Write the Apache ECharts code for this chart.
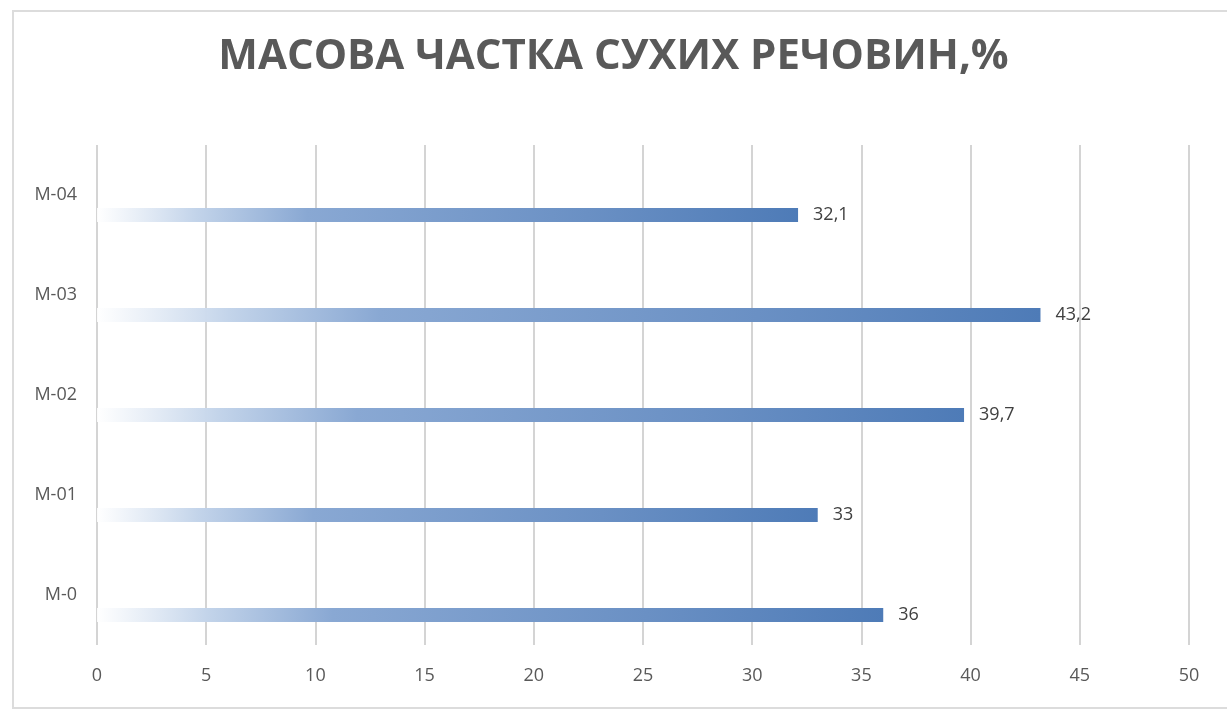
<!DOCTYPE html>
<html>
<head>
<meta charset="utf-8">
<script src="https://cdn.jsdelivr.net/npm/echarts@6/dist/echarts.min.js"></script>
<style>
  html, body { margin: 0; padding: 0; background: #ffffff; }
  #chart { width: 1227px; height: 717px; }
</style>
</head>
<body>
<div id="chart"></div>
<script>
// Dry matter mass fraction per sample
const titleText = 'МАСОВА ЧАСТКА СУХИХ РЕЧОВИН,%';
const categories = ['M-0', 'M-01', 'M-02', 'M-03', 'M-04'];
const values = [36, 33, 39.7, 43.2, 32.1];
const axisMin = 0;
const axisMax = 50;
const axisStep = 5;

const textColor = '#595959';
const gridColor = '#d4d4d4';

const barFill = new echarts.graphic.LinearGradient(0, 0, 1, 0, [
  { offset: 0, color: 'rgba(255,255,255,0.9)' },
  { offset: 0.14, color: '#c3d4ea' },
  { offset: 0.3, color: '#89a8d3' },
  { offset: 0.7, color: '#6a90c4' },
  { offset: 1, color: '#4e7bb7' }
]);

const chart = echarts.init(document.getElementById('chart'), null, { renderer: 'canvas' });

chart.setOption({
  backgroundColor: '#ffffff',
  animation: false,
  graphic: [{
    type: 'rect',
    shape: { x: 13, y: 11, width: 1230, height: 697 },
    style: { fill: 'none', stroke: '#dcdcdc', lineWidth: 2 },
    silent: true
  }],
  title: {
    text: titleText,
    left: 'center',
    top: 31,
    textStyle: {
      fontFamily: 'Open Sans',
      fontWeight: 'bold',
      fontSize: 42,
      color: textColor
    }
  },
  grid: {
    left: 97,
    right: 38,
    top: 145,
    bottom: 72,
    containLabel: false
  },
  xAxis: {
    type: 'value',
    min: axisMin,
    max: axisMax,
    interval: axisStep,
    axisLine: { show: false },
    axisTick: { show: false },
    splitLine: { show: true, lineStyle: { color: gridColor, width: 2 } },
    axisLabel: {
      margin: 22,
      fontFamily: 'Open Sans',
      fontSize: 18,
      color: textColor
    }
  },
  yAxis: {
    type: 'category',
    data: categories,
    axisLine: { show: false },
    axisTick: { show: false },
    splitLine: { show: false },
    axisLabel: {
      margin: 20,
      fontFamily: 'Open Sans',
      fontSize: 18,
      color: textColor,
      padding: [0, 0, 4, 0]
    }
  },
  series: [
    {
      // empty companion series: keeps the bar in the lower part of each band
      type: 'bar',
      name: 'spacer',
      data: [],
      barWidth: 14,
      barGap: '185.7%',
      silent: true
    },
    {
      type: 'bar',
      name: 'value',
      data: values,
      barWidth: 14,
      itemStyle: {
        color: barFill
      },
      label: {
        show: true,
        position: 'right',
        distance: 15,
        fontFamily: 'Open Sans',
        fontSize: 18,
        color: '#404040',
        formatter: p => String(p.value).replace('.', ',')
      }
    }
  ]
});
</script>
</body>
</html>
